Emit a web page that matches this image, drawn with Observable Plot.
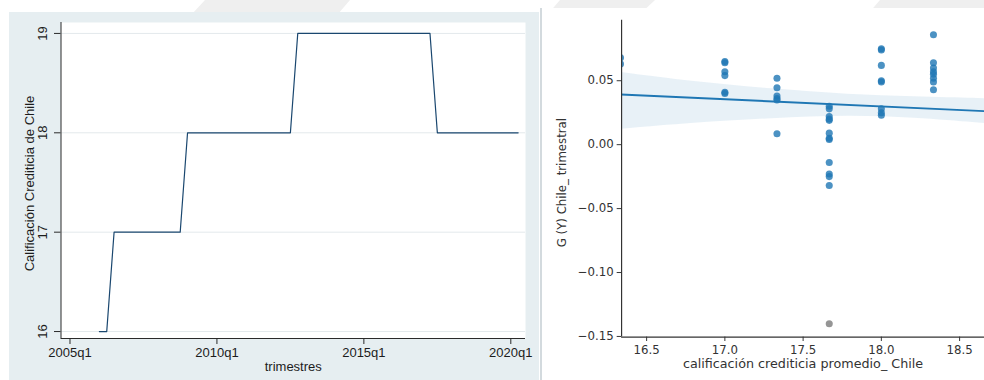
<!DOCTYPE html>
<html>
<head>
<meta charset="utf-8">
<script src="https://cdn.jsdelivr.net/npm/d3@7"></script>
<script src="https://cdn.jsdelivr.net/npm/@observablehq/plot@0.6"></script>
<style>
  html, body { margin: 0; padding: 0; background: #ffffff; }
  #page { position: relative; width: 984px; height: 380px; overflow: hidden; background: #ffffff; }
  #marca { position: absolute; left: 0; top: 0; }
  #izq { position: absolute; left: 9px; top: 12px; width: 530px; height: 368px; background: #e6eef1; }
  #borde { position: absolute; left: 540px; top: 8px; width: 2px; height: 372px; background: #d3dade; }
  #der { position: absolute; left: 542px; top: 8px; width: 442px; height: 372px; overflow: hidden; background: #ffffff; }
  svg { display: block; }
</style>
</head>
<body>
<div id="page">
  <svg id="marca" width="984" height="14">
    <polygon points="205,0 350,0 338,14 192,14" fill="#efefef"/>
    <polygon points="560,0 655,0 640,14 548,14" fill="#efefef"/>
    <polygon points="880,0 984,0 984,14 868,14" fill="#efefef"/>
  </svg>
  <div id="izq"></div>
  <div id="borde"></div>
  <div id="der"></div>
</div>
<script>
// ---- Calificación crediticia de Chile, por trimestre (desde 2006q1) ----
const primerTrimestre = "2006q1";
const calificacionChile = [
  16, 16,
  17, 17, 17, 17, 17, 17, 17, 17, 17, 17,
  18, 18, 18, 18, 18, 18, 18, 18, 18, 18, 18, 18, 18, 18, 18,
  19, 19, 19, 19, 19, 19, 19, 19, 19, 19, 19, 19, 19, 19, 19, 19, 19, 19, 19,
  18, 18, 18, 18, 18, 18, 18, 18, 18, 18, 18, 18
];
const etiquetasTrimestre = ["2005q1", "2010q1", "2015q1", "2020q1"];
const ticksCalificacion = [16, 17, 18, 19];

// ---- Crecimiento trimestral vs. calificación promedio ----
const califPromedio = [
  16.333, 16.333,
  17.0, 17.0, 17.0, 17.0, 17.0, 17.0,
  17.333, 17.333, 17.333, 17.333, 17.333, 17.333,
  17.667, 17.667, 17.667, 17.667, 17.667, 17.667, 17.667, 17.667, 17.667, 17.667, 17.667, 17.667,
  18.0, 18.0, 18.0, 18.0, 18.0, 18.0, 18.0, 18.0,
  18.333, 18.333, 18.333, 18.333, 18.333, 18.333, 18.333, 18.333
];
const crecimientoChile = [
  0.068, 0.063,
  0.065, 0.064, 0.057, 0.054, 0.041, 0.040,
  0.052, 0.0445, 0.038, 0.036, 0.035, 0.0085,
  0.030, 0.028, 0.022, 0.020, 0.019, 0.009, 0.005, 0.004, -0.014, -0.023, -0.025, -0.032,
  0.075, 0.074, 0.062, 0.050, 0.049, 0.028, 0.025, 0.023,
  0.086, 0.064, 0.060, 0.057, 0.055, 0.052, 0.049, 0.043
];
const atipicoX = [17.667];
const atipicoY = [-0.140];

// recta ajustada y banda de confianza
const ajusteX = [16.333, 18.66];
const ajusteY = [0.0393, 0.0262];
const bandaX = [16.333, 16.8, 17.3, 17.8, 18.2, 18.66];
const bandaInf = [0.0120, 0.0170, 0.0205, 0.0230, 0.0210, 0.0165];
const bandaSup = [0.0565, 0.0490, 0.0435, 0.0390, 0.0375, 0.0360];

const ticksX2 = ["16.5", "17.0", "17.5", "18.0", "18.5"];
const ticksY2 = ["\u22120.15", "\u22120.10", "\u22120.05", "0.00", "0.05"];

// ---------- panel izquierdo (estilo Stata) ----------
const indiceTrimestre = s => { const [a, q] = s.split("q").map(Number); return (a - 2005) * 4 + (q - 1); };
const inicio = indiceTrimestre(primerTrimestre);
const serie = calificacionChile.map((v, i) => ({t: inicio + i, v}));
const xDom1 = [-1.225, 62.0];
const fuente1 = "'Liberation Sans', Arial, sans-serif";

const izq = Plot.plot({
  width: 530, height: 368,
  marginLeft: 51.5, marginRight: 14, marginTop: 10, marginBottom: 42,
  style: {background: "transparent", fontFamily: fuente1, fontSize: "13px", color: "#1c1c1c"},
  x: {domain: xDom1},
  y: {domain: [15.93, 19.11]},
  marks: [
    Plot.frame({fill: "#ffffff", stroke: null}),
    Plot.ruleY(ticksCalificacion, {stroke: "#e3e9ec", strokeWidth: 1}),
    Plot.line(serie, {x: "t", y: "v", stroke: "#1a476f", strokeWidth: 1.2}),
    Plot.ruleX([xDom1[0]], {stroke: "#2a2a2a", strokeWidth: 1}),
    Plot.ruleY([15.93], {stroke: "#2a2a2a", strokeWidth: 1}),
    Plot.axisX({
      ticks: etiquetasTrimestre.map(indiceTrimestre),
      tickSize: 6, tickPadding: 3, stroke: "#2a2a2a",
      tickFormat: t => etiquetasTrimestre[etiquetasTrimestre.map(indiceTrimestre).indexOf(t)],
      fontSize: 13, label: null
    }),
    Plot.axisY({ticks: ticksCalificacion, tickSize: 6.5, tickFormat: () => "", label: null, stroke: "#2a2a2a"}),
    Plot.text(ticksCalificacion, {y: d => d, text: d => String(d), frameAnchor: "left", textAnchor: "middle", lineAnchor: "middle", dx: -18, rotate: -90, fontSize: 13}),
    Plot.text(["Calificación Crediticia de Chile"], {frameAnchor: "left", textAnchor: "middle", lineAnchor: "middle", dx: -31.2, dy: 3, rotate: -90, fontSize: 13}),
    Plot.text(["trimestres"], {frameAnchor: "bottom", textAnchor: "middle", lineAnchor: "middle", dy: 28.7, fontSize: 13})
  ]
});
document.getElementById("izq").appendChild(izq);

// ---------- panel derecho (regresión) ----------
const puntos = califPromedio.map((x, i) => ({x, y: crecimientoChile[i]}));
const atipicos = atipicoX.map((x, i) => ({x, y: atipicoY[i]}));
const ajuste = ajusteX.map((x, i) => ({x, y: ajusteY[i]}));
const banda = bandaX.map((x, i) => ({x, lo: bandaInf[i], hi: bandaSup[i]}));
const num = s => +s.replace("\u2212", "-");
const xDom2 = [16.34, 18.659];
const yDom2 = [-0.1505, 0.0973];
const fuente2 = "'DejaVu Sans', sans-serif";

const der = Plot.plot({
  width: 451, height: 372,
  marginLeft: 80.7, marginRight: 0, marginTop: 12, marginBottom: 36.7,
  style: {background: "transparent", fontFamily: fuente2, fontSize: "12px", color: "#333333", overflow: "visible"},
  x: {domain: xDom2},
  y: {domain: yDom2},
  marks: [
    Plot.areaY(banda, {x: "x", y1: "lo", y2: "hi", fill: "#1f77b4", fillOpacity: 0.1, curve: "basis", clip: true}),
    Plot.dot(puntos, {x: "x", y: "y", r: 3.6, fill: "#1f77b4", fillOpacity: 0.8, clip: true}),
    Plot.dot(atipicos, {x: "x", y: "y", r: 3.6, fill: "#8a8a8a", fillOpacity: 0.9, clip: true}),
    Plot.line(ajuste, {x: "x", y: "y", stroke: "#1f77b4", strokeWidth: 2, clip: true}),
    Plot.ruleX([xDom2[0]], {stroke: "#333333", strokeWidth: 1.2}),
    Plot.ruleY([yDom2[0]], {stroke: "#333333", strokeWidth: 1.2}),
    Plot.axisY({ticks: ticksY2.map(num), tickSize: 4.5, tickPadding: 3.5, stroke: "#333333",
      tickFormat: v => ticksY2[ticksY2.map(num).indexOf(v)], fontSize: 12, label: null}),
    Plot.axisX({ticks: ticksX2.map(num), tickSize: 4.5, tickPadding: 4, stroke: "#333333",
      tickFormat: v => ticksX2[ticksX2.map(num).indexOf(v)], fontSize: 12, label: null}),
    Plot.text(["G (Y) Chile_ trimestral"], {frameAnchor: "left", textAnchor: "middle", lineAnchor: "middle", dx: -61, dy: 4, rotate: -90, fontSize: 12}),
    Plot.text(["calificación crediticia promedio_ Chile"], {frameAnchor: "bottom", textAnchor: "middle", lineAnchor: "middle", dy: 27.7, fontSize: 13})
  ]
});
document.getElementById("der").appendChild(der);
</script>
</body>
</html>
